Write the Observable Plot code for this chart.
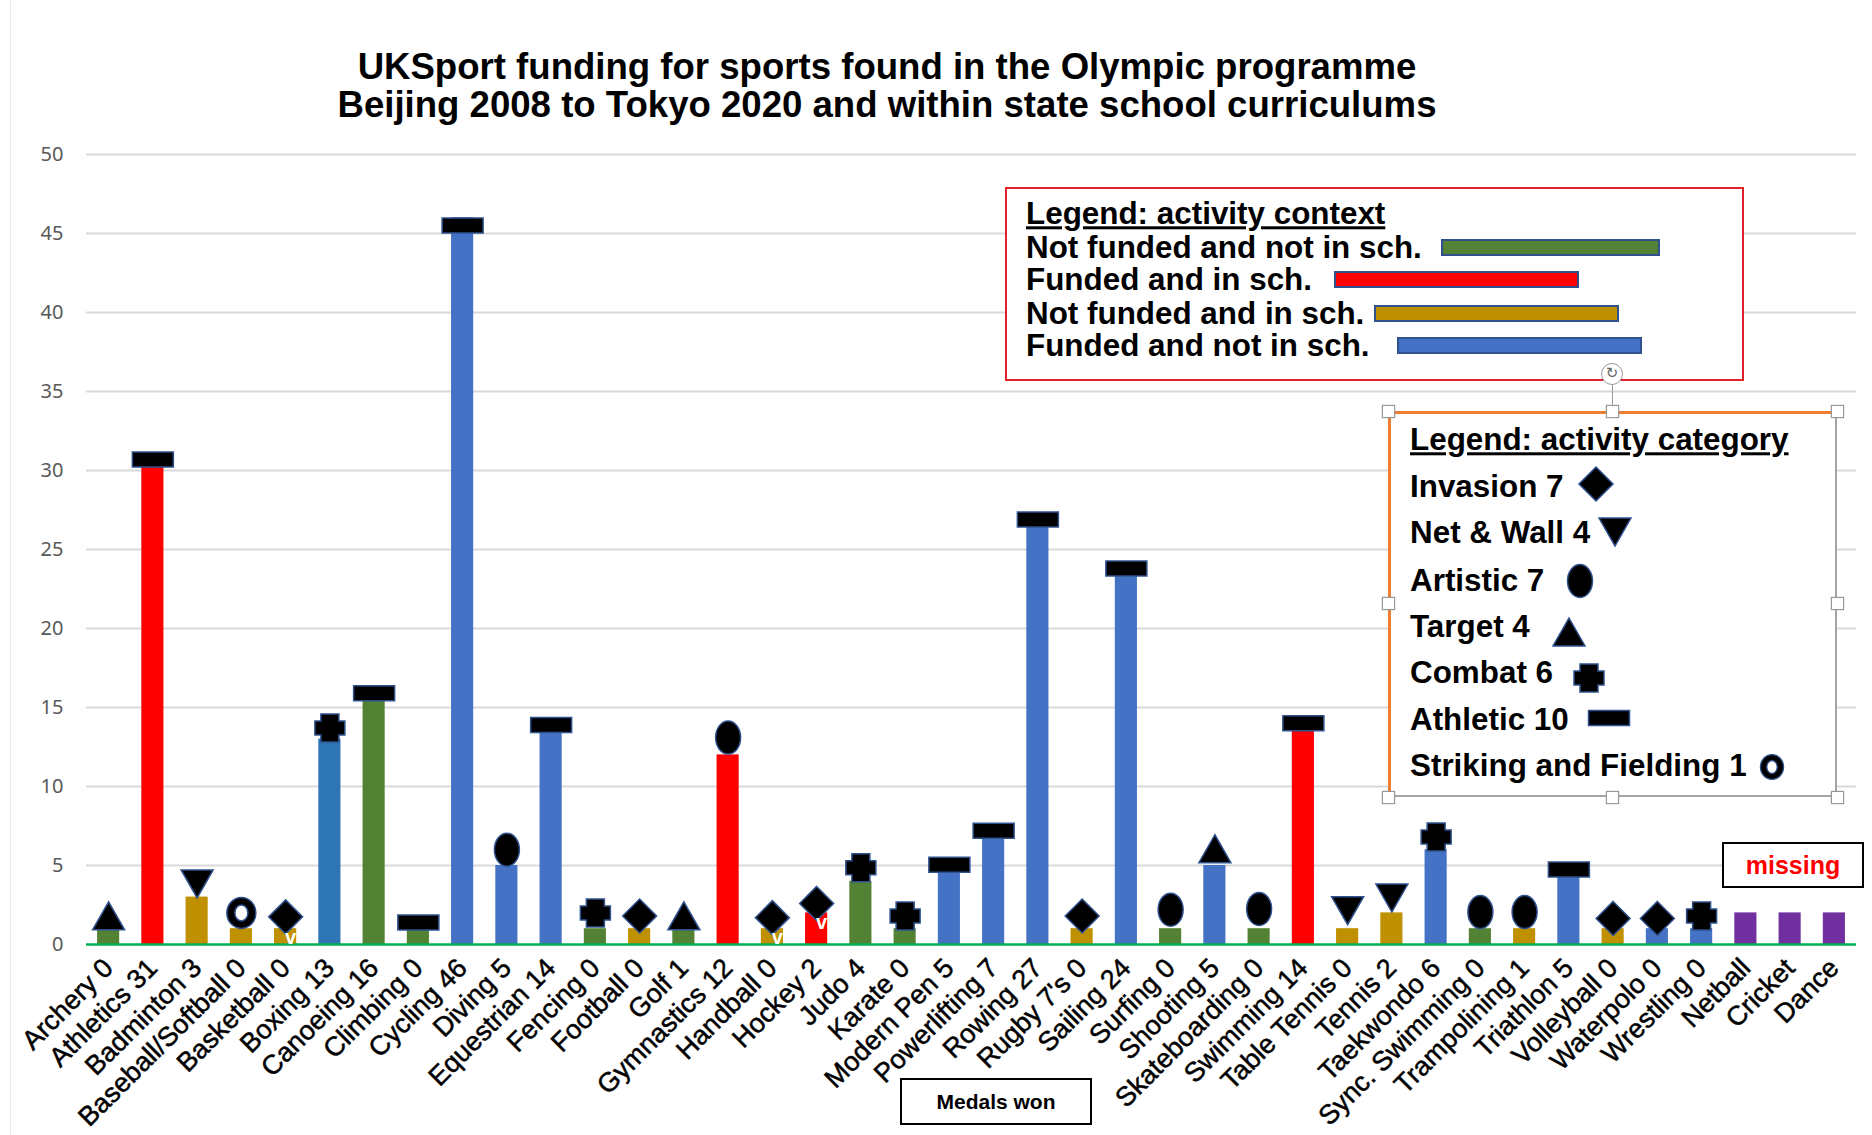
<!DOCTYPE html>
<html>
<head>
<meta charset="utf-8">
<script src="https://cdn.jsdelivr.net/npm/d3@7"></script>
<script src="https://cdn.jsdelivr.net/npm/@observablehq/plot@0.6"></script>
<style>
  html, body { margin: 0; padding: 0; background: #fff; }
  #page { position: relative; width: 1872px; height: 1135px; overflow: hidden; font-family: "Liberation Sans", Arial, sans-serif; color: #000; }
  #sheet-edge { position: absolute; left: 10px; top: 0; bottom: 0; width: 1px; background: #ececec; }
  #title { height: 120px; box-sizing: border-box; padding-top: 48px; text-align: center; font-weight: 700; font-size: 36.6px; line-height: 38px; padding-right: 98px; }
  #title div { white-space: nowrap; }
  svg { display: block; }
  .box { position: absolute; background: #fff; box-sizing: border-box; }
  .abs { position: absolute; white-space: nowrap; font-weight: 700; line-height: 1; }
  .u { text-decoration: underline; }
  .swatch { position: absolute; box-sizing: border-box; border: 2px solid #2f528f; }
  .handle { position: absolute; width: 13px; height: 13px; background: #fff; border: 1px solid #999; box-sizing: border-box; box-shadow: 0 0 1px #888; }
  .labelbox { position: absolute; box-sizing: border-box; background: #fff; border: 2px solid #000; display: flex; align-items: center; justify-content: center; font-weight: 700; }
  .xlabels text { stroke: #000; stroke-width: 0.5px; }
</style>
</head>
<body>
<div id="page">
  <div id="sheet-edge"></div>
  <div id="title">
    <div>UKSport funding for sports found in the Olympic programme</div>
    <div>Beijing 2008 to Tokyo 2020 and within state school curriculums</div>
  </div>
  <div id="chart"></div>
</div>
<script>
// Sports in axis order
const sports = ["Archery","Athletics","Badminton","Baseball/Softball","Basketball","Boxing","Canoeing","Climbing","Cycling","Diving","Equestrian","Fencing","Football","Golf","Gymnastics","Handball","Hockey","Judo","Karate","Modern Pen","Powerlifting","Rowing","Rugby 7's","Sailing","Surfing","Shooting","Skateboarding","Swimming","Table Tennis","Tennis","Taekwondo","Sync. Swimming","Trampolining","Triathlon","Volleyball","Waterpolo","Wrestling","Netball","Cricket","Dance"];
// Medals stated in each axis label; null where the sport has no figure
const medals = [0,31,3,0,0,13,16,0,46,5,14,0,0,1,12,0,2,4,0,5,7,27,0,24,0,5,0,14,0,2,6,0,1,5,0,0,0,null,null,null];
// Drawn bar heights; zero-medal sports keep a one-unit stub, missing sports a two-unit one
const barHeights = [1,31,3,1,1,13,16,1,46,5,14,1,1,1,12,1,2,4,1,5,7,27,1,24,1,5,1,14,1,2,6,1,1,5,1,1,1,2,2,2];
// Funding and school context of each sport
const contexts = ["nn","fs","ns","ns","ns","fb","nn","nn","fn","fn","fn","nn","ns","nn","fs","ns","fs","nn","nn","fn","fn","fn","ns","fn","nn","fn","nn","fs","ns","ns","fn","nn","ns","fn","ns","fn","fn","mi","mi","mi"];
// Activity category of each sport
const categories = ["target","athletic","net","strike","invasion","combat","athletic","athletic","athletic","artistic","athletic","combat","invasion","target","artistic","invasion","invasion","combat","combat","athletic","athletic","athletic","invasion","athletic","artistic","target","artistic","athletic","net","net","combat","artistic","artistic","athletic","invasion","invasion","combat",null,null,null];
// Vertical centre of each category marker on the medal scale
const markerLevels = [1.75,30.7,3.9,2.0,1.75,13.7,15.9,1.4,45.5,6.0,13.9,2.0,1.8,1.75,13.1,1.7,2.6,4.85,1.8,5.05,7.2,26.9,1.8,23.8,2.2,6.0,2.25,14.0,2.2,3.0,6.8,2.05,2.05,4.75,1.65,1.65,1.8,null,null,null];
// Sports whose bars carry a small white tick, with its level on the medal scale
const tickSports = ["Basketball","Handball","Hockey"];
const tickLevels = [0.45,0.45,1.4];
const yTicks = [0,5,10,15,20,25,30,35,40,45,50];

const contextColor = {nn:"#548235", fs:"#ff0000", ns:"#bf9000", fn:"#4472c4", fb:"#2e75b6", mi:"#7030a0"};

const contextLegend = ["Not funded and not in sch.","Funded and in sch.","Not funded and in sch.","Funded and not in sch."];
const contextLegendKeys = ["nn","fs","ns","fn"];
const categoryLegend = ["Invasion 7","Net & Wall 4","Artistic 7","Target 4","Combat 6","Athletic 10","Striking and Fielding 1"];
const categoryLegendKeys = ["invasion","net","artistic","target","combat","athletic","strike"];

// Traces an ellipse on a path context, clockwise or counter-clockwise
function ellipse(c, rx, ry, reverse) {
  const k = 0.5523, s = reverse ? -1 : 1;
  c.moveTo(rx, 0);
  c.bezierCurveTo(rx, s*k*ry, k*rx, s*ry, 0, s*ry);
  c.bezierCurveTo(-k*rx, s*ry, -rx, s*k*ry, -rx, 0);
  c.bezierCurveTo(-rx, -s*k*ry, -k*rx, -s*ry, 0, -s*ry);
  c.bezierCurveTo(k*rx, -s*ry, rx, -s*k*ry, rx, 0);
  c.closePath();
}
function poly(c, pts) {
  pts.forEach(([x, y], i) => i ? c.lineTo(x, y) : c.moveTo(x, y));
  c.closePath();
}
// Marker shapes for the seven activity categories
const shapes = {
  invasion: {draw(c) { poly(c, [[0,-17],[17,0],[0,17],[-17,0]]); }},
  net:      {draw(c) { poly(c, [[-16,-13],[16,-13],[0,15]]); }},
  artistic: {draw(c) { ellipse(c, 12.5, 16.5); }},
  target:   {draw(c) { poly(c, [[0,-15],[16,13],[-16,13]]); }},
  combat:   {draw(c) { poly(c, [[-9,-14],[9,-14],[9,-7],[15,-7],[15,7],[9,7],[9,14],[-9,14],[-9,7],[-15,7],[-15,-7],[-9,-7]]); }},
  athletic: {draw(c) { c.rect(-20.5,-7.5,41,15); }},
  strike:   {draw(c) { ellipse(c, 14.5, 15.5); ellipse(c, 6.5, 8, true); }}
};

const data = sports.map((sport, i) => ({
  sport, height: barHeights[i], medals: medals[i],
  context: contexts[i], category: categories[i], level: markerLevels[i]
}));
const labelOf = new Map(data.map(d => [d.sport, d.medals === null ? d.sport : `${d.sport} ${d.medals}`]));
const ticks = tickSports.map((sport, i) => ({sport, level: tickLevels[i]}));

const chart = Plot.plot({
  width: 1872,
  height: 1015,
  marginLeft: 86,
  marginRight: 16,
  marginTop: 34,
  marginBottom: 191,
  style: {fontFamily: '"Liberation Sans", Arial, sans-serif', background: "#fff", overflow: "visible"},
  x: {domain: sports, paddingInner: 0.5, paddingOuter: 0.25, round: false, label: null, axis: null},
  y: {domain: [0, 50], label: null, axis: null},
  marks: [
    Plot.gridY(yTicks.slice(1), {stroke: "#d9d9d9", strokeWidth: 2, strokeOpacity: 1}),
    Plot.axisY({ticks: yTicks, tickSize: 0, tickPadding: 23, fontSize: 20, color: "#595959", fontFamily: '"Noto Sans"', label: null}),
    Plot.barY(data, {x: "sport", y: "height", fill: d => contextColor[d.context]}),
    Plot.ruleY([0], {stroke: "#00b050", strokeWidth: 2.5}),
    Plot.axisX({tickSize: 0, tickRotate: -45, tickPadding: 19, fontSize: 27, fill: "#000", fontWeight: 400, className: "xlabels", label: null, tickFormat: s => labelOf.get(s)}),
    ...Object.keys(shapes).map(key =>
      Plot.dot(data.filter(d => d.category === key), {
        x: "sport", y: "level", symbol: shapes[key],
        fill: "#000", stroke: "#2f528f", strokeWidth: 1.5
      })
    ),
    Plot.text(ticks, {x: "sport", y: "level", text: () => "v", fill: "#fff", fontWeight: 700, fontSize: 20, dx: 5})
  ]
});
document.getElementById("chart").append(chart);

// Annotation boxes and the two legends sit over the plot
const page = document.getElementById("page");
function add(cls, css, text) {
  const el = document.createElement("div");
  el.className = cls;
  Object.assign(el.style, css);
  if (text != null) el.textContent = text;
  page.append(el);
  return el;
}
const px = v => v + "px";
function placeBox(cls, x0, y0, x1, y1, css, text) {
  return add(cls, {left: px(x0), top: px(y0), width: px(x1 - x0), height: px(y1 - y0), ...css}, text);
}
function textAt(x, yCentre, size, text, cls = "") {
  return add("abs " + cls, {left: px(x), top: px(yCentre), fontSize: px(size), transform: "translateY(-50%)"}, text);
}
function symbolAt(key, cx, cy) {
  const ctx = d3.path();
  shapes[key].draw(ctx, 0);
  const ns = "http://www.w3.org/2000/svg";
  const s = document.createElementNS(ns, "svg");
  s.setAttribute("width", 50); s.setAttribute("height", 50); s.setAttribute("viewBox", "-25 -25 50 50");
  s.style.cssText = `position:absolute;left:${cx-25}px;top:${cy-25}px`;
  const p = document.createElementNS(ns, "path");
  p.setAttribute("d", ctx.toString());
  p.setAttribute("fill", "#000"); p.setAttribute("stroke", "#2f528f"); p.setAttribute("stroke-width", 1.5);
  if (key === "strike") p.setAttribute("transform", "scale(0.8)");
  s.append(p); page.append(s);
}

// Legend: activity context
placeBox("box", 1005, 187, 1744, 381, {border: "2px solid #e0202a"});
textAt(1026, 214, 31.4, "Legend: activity context", "u");
const ctxRows = [248, 280, 314, 346];
const ctxBars = [[1441,1660],[1334,1579],[1374,1619],[1397,1642]];
contextLegend.forEach((t, i) => {
  textAt(1026, ctxRows[i], 31.4, t);
  const [a, b] = ctxBars[i];
  placeBox("swatch", a, ctxRows[i] - 9, b, ctxRows[i] + 8, {background: contextColor[contextLegendKeys[i]]});
});

// Legend: activity category, shown with its selection frame
placeBox("box", 1388, 411, 1837, 797, {borderTop: "3px solid #ed7d31", borderLeft: "3px solid #ed7d31", borderRight: "2px solid #a5a5a5", borderBottom: "2px solid #a5a5a5"});
textAt(1410, 440, 31.4, "Legend: activity category", "u");
const catRows = [487, 533, 581, 627, 673, 720, 766];
const catMarks = [[1596,484],[1615,531],[1580,581],[1569,633],[1589,678],[1609,718],[1772,767]];
categoryLegend.forEach((t, i) => {
  textAt(1410, catRows[i], 31.4, t);
  symbolAt(categoryLegendKeys[i], catMarks[i][0], catMarks[i][1]);
});
add("", {position: "absolute", left: "1612px", top: "385px", width: "1px", height: "26px", background: "#999"});
[[1388,411],[1612,411],[1837,411],[1388,603],[1837,603],[1388,797],[1612,797],[1837,797]].forEach(([x, y]) =>
  add("handle", {left: px(x - 6), top: px(y - 6)})
);
add("", {position: "absolute", left: "1601px", top: "363px", width: "22px", height: "22px", borderRadius: "50%", background: "#fff", border: "1px solid #999", boxSizing: "border-box", textAlign: "center", fontSize: "15px", lineHeight: "19px", color: "#666", fontFamily: '"DejaVu Sans"'}, "↻");

placeBox("labelbox", 1722, 842, 1864, 888, {color: "#ff0000", fontSize: "25px"}, "missing");
placeBox("labelbox", 900, 1078, 1092, 1125, {fontSize: "21px"}, "Medals won");
</script>
</body>
</html>
